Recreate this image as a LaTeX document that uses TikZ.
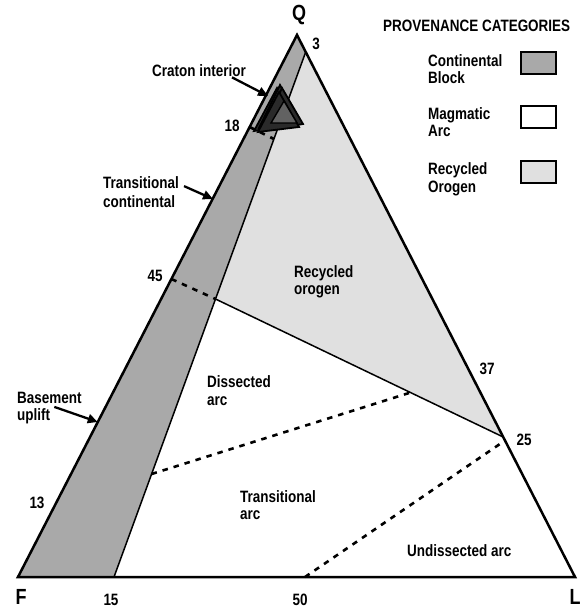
\documentclass[tikz,border=0pt]{standalone}
\usepackage{fontspec}
\setmainfont{Liberation Sans}[FakeStretch=0.82]
\usetikzlibrary{arrows.meta,calc}
\definecolor{contgray}{HTML}{A9A9A9}
\definecolor{oroggray}{HTML}{E0E0E0}
\definecolor{tridark}{HTML}{2A2A2A}
\definecolor{trimid}{HTML}{626262}
\begin{document}
\begin{tikzpicture}[x=1bp,y=-1bp,
  lbl/.style={font=\bfseries\fontsize{16.5}{18}\selectfont, inner sep=0pt, anchor=base west},
  num/.style={font=\bfseries\fontsize{16.5}{18}\selectfont, inner sep=0pt},
  vtx/.style={font=\bfseries\fontsize{22}{24}\selectfont, inner sep=0pt},
  edge/.style={line width=2.5bp, line join=miter},
  innerline/.style={line width=1.5bp},
  dashline/.style={line width=2.6bp, dash pattern=on 5.5bp off 6bp},
  pointer/.style={line width=2.3bp, -{Triangle[length=10bp,width=9bp]}},
  swatch/.style={draw, line width=1.5bp, minimum width=35bp, minimum height=22bp, inner sep=0pt},
  craton/.style={draw=black, line width=1.8bp, fill=tridark, line join=miter},
]
\useasboundingbox (0,0) rectangle (586,608);
% vertices and reference points
\coordinate (Q) at (297,35);
\coordinate (F) at (18,577);
\coordinate (L) at (575,577);
\coordinate (c3) at (305.7,52);
\coordinate (c15) at (114,577);
\coordinate (c45) at (171.4,279);
\coordinate (cj) at (215.5,299);
\coordinate (c25) at (503.2,437);
\coordinate (c25b) at (504.3,441);
\coordinate (c50) at (305,577);
\coordinate (d1) at (151.6,474);
\coordinate (d2) at (409,393);
\coordinate (c18) at (249.6,127);
\coordinate (c18b) at (273.9,139);
% fields
\fill[contgray] (Q) -- (c3) -- (c15) -- (F) -- cycle;
\fill[oroggray] (c3) -- (c25) -- (cj) -- cycle;
\draw[innerline] (c3) -- (c15);
\draw[innerline] (cj) -- (c25);
% dashed boundaries
\draw[dashline] (c45) -- (cj);
\draw[dashline] (c18) -- (c18b);
\draw[dashline] (d1) -- (d2);
\draw[dashline] (c50) -- (c25b);
% outer triangle
\draw[edge] (Q) -- (F) -- (L) -- cycle;
% craton interior data
\draw[craton] (277,88) -- (296,125) -- (254,131) -- cycle;
\draw[craton] (280,85) -- (300,123) -- (259,128) -- cycle;
\draw[craton] (282,88) -- (303,124) -- (262,131) -- cycle;
\draw[craton] (279,92) -- (299,127) -- (258,132) -- cycle;
\draw[craton, fill=trimid, line width=1.4bp] (284,101) -- (297,123) -- (271,123) -- cycle;
% vertex labels
\node[vtx] (lQ) at (299,15) {Q};
\node[vtx] (lF) at (21,597) {F};
\node[vtx] (lL) at (575,597) {L};
% numbers
\node[num] (n3) at (316,44) {3};
\node[num] (n18) at (232,126) {18};
\node[num] (n45) at (155,276) {45};
\node[num] (n13) at (37,503) {13};
\node[num] (n15) at (111,600) {15};
\node[num] (n50) at (300,600) {50};
\node[num] (n37) at (487,369) {37};
\node[num] (n25) at (524,440) {25};
% field labels
\node[lbl] (ro) at (294,277) {Recycled};
\node[lbl] (ro2) at (294,294) {orogen};
\node[lbl] (da) at (207,387) {Dissected};
\node[lbl] (da2) at (207,405) {arc};
\node[lbl] (ta) at (240,502) {Transitional};
\node[lbl] (ta2) at (240,519) {arc};
\node[lbl] (ua) at (407,556) {Undissected arc};
% pointer labels
\node[lbl] (ci) at (152,77) {Craton interior};
\coordinate (citip) at (268,96);
\draw[pointer] ($(ci.south east)+(-14,0)$) -- (citip);
\node[lbl] (tc) at (103,188) {Transitional};
\node[lbl] (tc2) at (103,207) {continental};
\coordinate (tctip) at (213,199);
\draw[pointer] ($(tc.east)+(5,4)$) -- (tctip);
\node[lbl] (bu) at (17,403) {Basement};
\node[lbl] (bu2) at (17,420) {uplift};
\coordinate (butip) at (97.8,422);
\draw[pointer] ($(bu2.north east)+(4,-1)$) -- (butip);
% legend
\node[lbl] (title) at (383,32) {PROVENANCE CATEGORIES};
\node[lbl] (cb1) at (428,67) {Continental};
\node[lbl] (cb2) at (428,84) {Block};
\node[swatch, fill=contgray] (sw1) at (538.5,63) {};
\node[lbl] (ma1) at (428,120) {Magmatic};
\node[lbl] (ma2) at (428,137) {Arc};
\node[swatch, fill=white] (sw2) at (538.5,117) {};
\node[lbl] (rl1) at (428,175) {Recycled};
\node[lbl] (rl2) at (428,192) {Orogen};
\node[swatch, fill=oroggray] (sw3) at (538.5,172) {};
\end{tikzpicture}
\end{document}
